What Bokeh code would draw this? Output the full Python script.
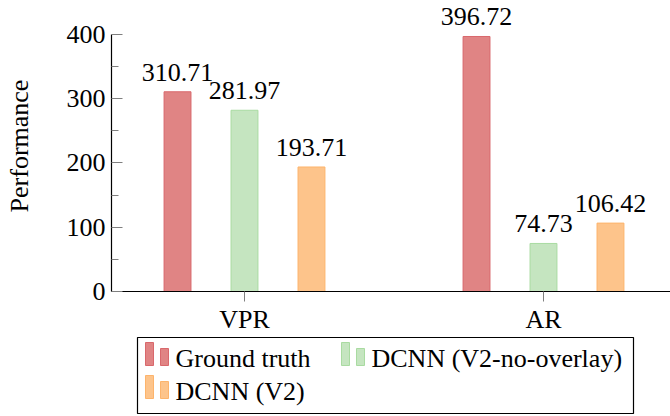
from bokeh.plotting import figure
from bokeh.models import Range1d, FixedTicker, ColumnDataSource, LabelSet
from bokeh.layouts import column
from bokeh.core.properties import value
from bokeh.embed import file_html
from bokeh.resources import INLINE

# ---- data ----
categories = ["VPR", "AR"]
series_names = ["Ground truth", "DCNN (V2-no-overlay)", "DCNN (V2)"]
ground_truth = [310.71, 396.72]
dcnn_v2_no_overlay = [281.97, 74.73]
dcnn_v2 = [193.71, 106.42]
y_ticks = [0, 100, 200, 300, 400]

# ---- style ----
FONT = "Liberation Serif"
FS = "26px"
fills = ["#e08484", "#c5e5c0", "#fdc48b"]
edges = ["#d9686c", "#a9dba1", "#fdb46c"]
offsets = [-0.224, 0.0, 0.224]
bar_w = 0.09
tick_grey = "#7f7f7f"

W = 670
MAIN_H = 336
LEG_H = 80
LEFT = 111
Y_PX = 258 / 400.0          # pixels per unit
FRAME_BOTTOM = 292

p = figure(width=W, height=MAIN_H, output_backend="svg", toolbar_location=None,
           x_range=Range1d(-0.4448, -0.4448 + (W - LEFT) / 299.0),
           y_range=Range1d(0, FRAME_BOTTOM / Y_PX),
           min_border_left=LEFT, min_border_right=0, min_border_top=0,
           min_border_bottom=MAIN_H - FRAME_BOTTOM)

xs_base = list(range(len(categories)))
all_series = [ground_truth, dcnn_v2_no_overlay, dcnn_v2]
for vals, off, fc, ec in zip(all_series, offsets, fills, edges):
    src = ColumnDataSource(dict(x=[i + off for i in xs_base], top=vals,
                                label=[f"{v:.2f}" for v in vals]))
    p.vbar(x="x", top="top", bottom=0, width=bar_w, fill_color=fc, line_color=ec,
           line_width=1, source=src)
    p.add_layout(LabelSet(x="x", y="top", text="label", source=src, text_align="center",
                          text_baseline="alphabetic", y_offset=11, text_font=value(FONT),
                          text_font_size=FS, text_color="black"))

p.xgrid.visible = False
p.ygrid.visible = False
p.outline_line_color = None

p.xaxis.ticker = FixedTicker(ticks=xs_base)
p.xaxis.major_label_overrides = {i: c for i, c in enumerate(categories)}
p.xaxis.major_tick_in = 0
p.xaxis.major_tick_out = 10
p.xaxis.minor_tick_line_color = None
p.xaxis.major_tick_line_color = tick_grey
p.xaxis.major_label_standoff = 3

minor = [(a + b) / 2 for a, b in zip(y_ticks[:-1], y_ticks[1:])]
p.yaxis.ticker = FixedTicker(ticks=y_ticks, minor_ticks=minor)
p.yaxis.bounds = (y_ticks[0], y_ticks[-1])
p.yaxis.major_tick_in = 11
p.yaxis.major_tick_out = 0
p.yaxis.minor_tick_in = 7
p.yaxis.minor_tick_out = 0
p.yaxis.major_tick_line_color = tick_grey
p.yaxis.minor_tick_line_color = tick_grey
p.yaxis.major_label_standoff = 6
p.yaxis.axis_label = "Performance"
p.yaxis.axis_label_standoff = 30
p.yaxis.axis_label_text_font_style = "normal"
p.yaxis.axis_label_text_font = FONT
p.yaxis.axis_label_text_font_size = FS
p.yaxis.axis_label_text_color = "black"

for ax in (p.xaxis, p.yaxis):
    ax.axis_line_color = "black"
    ax.axis_line_width = 1.2
    ax.major_label_text_font = FONT
    ax.major_label_text_font_size = FS
    ax.major_label_text_color = "black"

# ---- legend (separate panel, coordinates = page pixels) ----
lg = figure(width=W, height=LEG_H, output_backend="svg", toolbar_location=None,
            x_range=Range1d(LEFT, W), y_range=Range1d(MAIN_H + LEG_H, MAIN_H),
            x_axis_type=None, y_axis_type=None,
            min_border_left=LEFT, min_border_right=0,
            min_border_top=0, min_border_bottom=0)
lg.xgrid.visible = False
lg.ygrid.visible = False
lg.outline_line_color = None
lg.quad(left=[137], right=[633], top=[337], bottom=[413], fill_color=None,
        line_color="black", line_width=1.2)

col_x = [145, 341]
row_base = [365, 398]
slots = [(0, 0), (1, 0), (0, 1)]
for name, (c, r), fc, ec in zip(series_names, slots, fills, edges):
    cx, by = col_x[c], row_base[r]
    lg.quad(left=[cx, cx + 15], right=[cx + 8, cx + 23], top=[by - 23, by - 17],
            bottom=[by, by], fill_color=fc, line_color=ec, line_width=1)
    lg.text(x=[cx + 30], y=[by - 7], text=[name], text_baseline="alphabetic",
            text_align="left", text_font=value(FONT), text_font_size=FS,
            text_color="black")

layout = column(p, lg, spacing=0)
open("out.html", "w").write(file_html(layout, INLINE))
